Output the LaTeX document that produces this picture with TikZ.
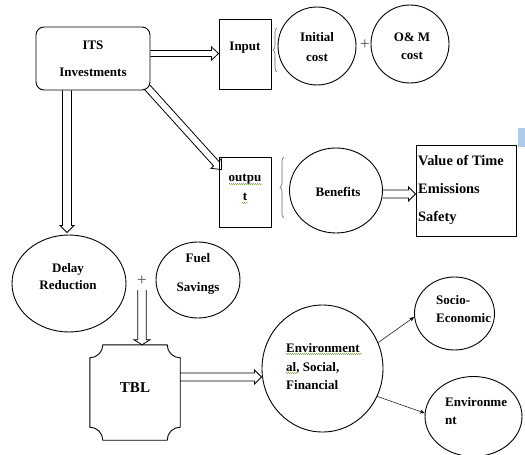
\documentclass[tikz,border=0pt]{standalone}
\usepackage{fontspec}
\setmainfont{Liberation Serif}
\usetikzlibrary{arrows.meta,decorations.pathreplacing,decorations.pathmorphing,shapes.geometric,calc}
\definecolor{lightblue}{RGB}{172,202,238}
\definecolor{squig}{RGB}{120,160,60}
% block arrow: start, end, shaft half width, head half width, head length
\newcommand\blkarrow[5]{%
  \coordinate (baH) at ($(#2)!#5!(#1)$);
  \draw[blkline] ($(#1)!#3!90:(#2)$) -- ($(baH)!#3!90:(#2)$) -- ($(baH)!#4!90:(#2)$) -- (#2)
     -- ($(baH)!#4!-90:(#2)$) -- ($(baH)!#3!-90:(#2)$) -- ($(#1)!#3!-90:(#2)$);
}
\begin{document}
\begin{tikzpicture}[x=1pt,y=-1pt,
  shp/.style={draw, line width=0.9pt, inner sep=0pt},
  txt/.style={font=\fontsize{13}{14}\selectfont\bfseries, inner sep=0pt},
  blkline/.style={line width=0.8pt, line join=miter},
  thinarrow/.style={line width=0.5pt, -{Stealth[length=5pt,width=4pt]}},
  brc/.style={draw=gray!80!black, line width=0.6pt, decorate, decoration={brace, amplitude=4pt}},
  sq/.style={draw=squig, line width=0.4pt, decorate, decoration={snake, amplitude=0.6pt, segment length=2pt}},
  plus/.style={font=\fontsize{17}{17}\selectfont, text=gray!60!black, inner sep=0pt}]
\useasboundingbox (0,0) rectangle (525,455);
\fill[white] (0,0) rectangle (525,455);
\fill[lightblue] (518,128) rectangle (525,147);

% shapes
\node[shp, rounded corners=8pt, minimum width=114pt, minimum height=63pt, txt, align=center] (its) at (93,58.5) {ITS\\[13pt]Investments};
\node[shp, minimum width=52pt, minimum height=70pt] (input) at (245,54) {};
\node[shp, circle, minimum size=78pt] (init) at (317,46) {};
\node[shp, circle, minimum size=78pt] (om) at (410,44) {};
\node[shp, minimum width=52pt, minimum height=70pt] (output) at (245,192) {};
\node[shp, ellipse, minimum width=93pt, minimum height=85pt] (ben) at (336,190.5) {};
\node[shp, minimum width=100pt, minimum height=91pt] (val) at (466,190.5) {};
\node[shp, ellipse, minimum width=114pt, minimum height=97pt] (delay) at (69,283.5) {};
\node[shp, ellipse, minimum width=84pt, minimum height=76pt] (fuel) at (198,280) {};
\node[minimum width=90pt, minimum height=95pt, inner sep=0pt] (tbl) at (135,392.5) {};
\node[shp, ellipse, minimum width=121pt, minimum height=127pt] (env) at (322.5,368.5) {};
\node[shp, ellipse, minimum width=80pt, minimum height=73pt] (socio) at (454.5,313.5) {};
\node[shp, ellipse, minimum width=97pt, minimum height=80pt] (envm) at (473.5,416.5) {};

% TBL plaque outline
\draw[line width=0.9pt]
  ($(tbl.north west)+(13,0)$) -- ($(tbl.north east)+(-13,0)$)
  .. controls ($(tbl.north east)+(-13,7.2)$) and ($(tbl.north east)+(-7.2,13)$) .. ($(tbl.north east)+(0,13)$)
  -- ($(tbl.south east)+(0,-13)$)
  .. controls ($(tbl.south east)+(-7.2,-13)$) and ($(tbl.south east)+(-13,-7.2)$) .. ($(tbl.south east)+(-13,0)$)
  -- ($(tbl.south west)+(13,0)$)
  .. controls ($(tbl.south west)+(13,-7.2)$) and ($(tbl.south west)+(7.2,-13)$) .. ($(tbl.south west)+(0,-13)$)
  -- ($(tbl.north west)+(0,13)$)
  .. controls ($(tbl.north west)+(7.2,13)$) and ($(tbl.north west)+(13,7.2)$) .. ($(tbl.north west)+(13,0)$) -- cycle;

% texts
\node[txt] (inputt) at (245,48) {Input};
\node[txt, align=center] (initt) at (317,47) {Initial\\[6pt]cost};
\node[txt, align=center] (omt) at (412,46) {O\& M\\[4pt]cost};
\node[txt, align=center] (outputt) at (245,187.5) {outpu\\[5pt]t};
\node[txt] (bent) at (338,192) {Benefits};
\node[font=\fontsize{14.4}{15}\selectfont\bfseries, inner sep=0pt, align=left, anchor=west] (valt) at (418,190) {Value of Time\\[13pt]Emissions\\[13pt]Safety};
\node[txt, align=center] (delayt) at (68,276.5) {Delay\\[3pt]Reduction};
\node[txt, align=center] (fuelt) at (198,274) {Fuel\\[15pt]Savings};
\node[font=\fontsize{15}{16}\selectfont\bfseries, inner sep=0pt] (tblt) at (135,388) {TBL};
\node[txt, align=left, anchor=west] (envt) at (286,367) {Environment\\[5pt]al, Social,\\[4pt]Financial};
\node[txt, align=left, anchor=west] (sociot) at (436,309) {Socio-\\[4pt]Economic};
\node[txt, align=left, anchor=west] (envmt) at (445,411) {Environme\\[4pt]nt};

% spell-check squiggles
\draw[sq] (229,184) -- (262,184);
\draw[sq] (242,203) -- (248,203);
\draw[sq] (286,354) -- (362,354);
\draw[sq] (286,373) -- (298,373);

% braces and plus signs
\draw[brc] (277,72) -- (277,28);
\draw[brc] (284,218) -- (284,157);
\node[plus] (plus1) at (365,45) {+};
\node[plus] (plus2) at (142,281) {+};
\coordinate (plusbot) at (142,290);

% block arrow end points
\coordinate (a1s) at ([yshift=5pt]its.east);
\coordinate (a1e) at (input.west |- 0,53.5);
\coordinate (a2s) at ($(its.south east)+(-4,-4)$);
\coordinate (a2e) at ($(output.north west)+(3,13)$);
\coordinate (a3s) at (its.south -| 67,0);
\coordinate (a3e) at ($(delay.north -| 67,0)+(0,-2)$);
\coordinate (a4e) at (tbl.north -| 142,0);
\coordinate (a5s) at (tbl.east |- 0,377);
\coordinate (a5e) at (env.west |- 0,377);
\coordinate (a6s) at (ben.east |- 0,194);
\coordinate (a6e) at (val.west |- 0,194);

\blkarrow{a1s}{a1e}{3pt}{6.5pt}{7pt}
\blkarrow{a2s}{a2e}{3.5pt}{7pt}{8pt}
\blkarrow{a3s}{a3e}{4.5pt}{7pt}{7pt}
\blkarrow{plusbot}{a4e}{4.3pt}{8pt}{5pt}
\blkarrow{a5s}{a5e}{4pt}{7pt}{7pt}
\blkarrow{a6s}{a6e}{4pt}{7pt}{7pt}

% thin arrows
\draw[thinarrow] (env.25) -- (socio.185);
\draw[thinarrow] (env.-27) -- (envm.176);
\end{tikzpicture}
\end{document}
